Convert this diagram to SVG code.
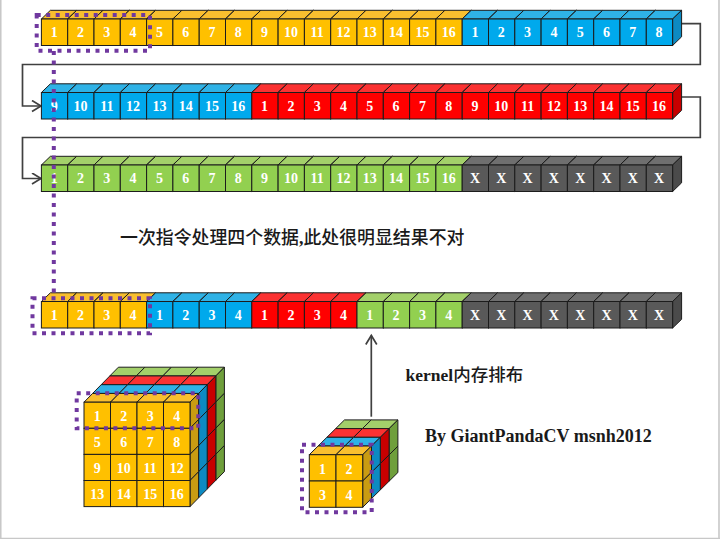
<svg xmlns="http://www.w3.org/2000/svg" width="720" height="539" viewBox="0 0 720 539">
<style>
.y{--f:#ffc000;--t:#f9bf2f;--s:#c99c12}
.b{--f:#00a9ec;--t:#2fb2e6;--s:#0d8ac2}
.r{--f:#ff0000;--t:#fb3232;--s:#c80000}
.g{--f:#92d050;--t:#a3d06a;--s:#6f9f3c}
.k{--f:#595959;--t:#6f6f6f;--s:#4b4b4b}
.f{fill:var(--f);stroke:#1c1c1c;stroke-width:1}
.u{fill:var(--t);stroke:#1c1c1c;stroke-width:1}
.s{fill:var(--s);stroke:#1c1c1c;stroke-width:1}
text{font-family:"Liberation Serif","Noto Sans CJK SC",serif;font-weight:700}
.n text,text.n{fill:#fff;font-size:14px;text-anchor:middle}
.w{fill:none;stroke:#404040;stroke-width:1.7}
.d{fill:none;stroke:#70389f;stroke-width:4;stroke-dasharray:4 5.5}
.l{fill:#1a1a1a}
.c{font-weight:500}
</style>
<defs>
<g id="cell"><polygon class="u" points="0,0 9,-8.7 35.3,-8.7 26.3,0"/><polygon class="s" points="26.3,0 35.3,-8.7 35.3,17.8 26.3,26.5"/><rect class="f" width="26.3" height="26.5"/></g>
<g id="lay4"><polygon class="u" points="0,0 8.6,-8.75 35.1,-8.75 26.5,0"/><polygon class="u" points="26.5,0 35.1,-8.75 61.6,-8.75 53,0"/><polygon class="u" points="53,0 61.6,-8.75 88.1,-8.75 79.5,0"/><polygon class="u" points="79.5,0 88.1,-8.75 114.6,-8.75 106,0"/><polygon class="s" points="106,0 114.6,-8.75 114.6,17.35 106,26.1"/><polygon class="s" points="106,26.1 114.6,17.35 114.6,43.45 106,52.2"/><polygon class="s" points="106,52.2 114.6,43.45 114.6,69.55 106,78.3"/><polygon class="s" points="106,78.3 114.6,69.55 114.6,95.65 106,104.4"/></g>
<g id="lay2"><polygon class="u" points="0,0 8.8,-8.7 35.5,-8.7 26.7,0"/><polygon class="u" points="26.7,0 35.5,-8.7 62.2,-8.7 53.4,0"/><polygon class="s" points="53.4,0 62.2,-8.7 62.2,17.6 53.4,26.3"/><polygon class="s" points="53.4,26.3 62.2,17.6 62.2,43.9 53.4,52.6"/></g>
<marker id="a" markerUnits="userSpaceOnUse" markerWidth="14" markerHeight="14" refX="10" refY="6" orient="auto"><path d="M1,0.5L10,6L1,11.5" fill="none" stroke="#404040" stroke-width="1.7"/></marker>
</defs>
<rect width="720" height="539" fill="#fff"/>
<path d="M0.75,0V539M719,0V539M0,538.5H720" fill="none" stroke="#c8c8c8" stroke-width="1.6"/>
<g id="connectors">
<path class="w" marker-end="url(#a)" d="M681,23.7H700.3V64.5H22.5V106H41"/>
<path class="w" marker-end="url(#a)" d="M681,97H700.3V137.5H22.5V178.5H41"/>
<path class="w" marker-end="url(#a)" d="M371.3,416.7V335.5"/>
</g>
<g id="row1" class="n">
<g id="r1c1" transform="translate(41.4,19)"><use href="#cell" class="y"/><text x="12.8" y="18">1</text></g>
<g id="r1c2" transform="translate(67.7,19)"><use href="#cell" class="y"/><text x="12.8" y="18">2</text></g>
<g id="r1c3" transform="translate(94,19)"><use href="#cell" class="y"/><text x="12.8" y="18">3</text></g>
<g id="r1c4" transform="translate(120.3,19)"><use href="#cell" class="y"/><text x="12.8" y="18">4</text></g>
<g id="r1c5" transform="translate(146.6,19)"><use href="#cell" class="y"/><text x="12.8" y="18">5</text></g>
<g id="r1c6" transform="translate(172.9,19)"><use href="#cell" class="y"/><text x="12.8" y="18">6</text></g>
<g id="r1c7" transform="translate(199.2,19)"><use href="#cell" class="y"/><text x="12.8" y="18">7</text></g>
<g id="r1c8" transform="translate(225.5,19)"><use href="#cell" class="y"/><text x="12.8" y="18">8</text></g>
<g id="r1c9" transform="translate(251.8,19)"><use href="#cell" class="y"/><text x="12.8" y="18">9</text></g>
<g id="r1c10" transform="translate(278.1,19)"><use href="#cell" class="y"/><text x="12.8" y="18">10</text></g>
<g id="r1c11" transform="translate(304.4,19)"><use href="#cell" class="y"/><text x="12.8" y="18">11</text></g>
<g id="r1c12" transform="translate(330.7,19)"><use href="#cell" class="y"/><text x="12.8" y="18">12</text></g>
<g id="r1c13" transform="translate(357,19)"><use href="#cell" class="y"/><text x="12.8" y="18">13</text></g>
<g id="r1c14" transform="translate(383.3,19)"><use href="#cell" class="y"/><text x="12.8" y="18">14</text></g>
<g id="r1c15" transform="translate(409.6,19)"><use href="#cell" class="y"/><text x="12.8" y="18">15</text></g>
<g id="r1c16" transform="translate(435.9,19)"><use href="#cell" class="y"/><text x="12.8" y="18">16</text></g>
<g id="r1c17" transform="translate(462.2,19)"><use href="#cell" class="b"/><text x="12.8" y="18">1</text></g>
<g id="r1c18" transform="translate(488.5,19)"><use href="#cell" class="b"/><text x="12.8" y="18">2</text></g>
<g id="r1c19" transform="translate(514.8,19)"><use href="#cell" class="b"/><text x="12.8" y="18">3</text></g>
<g id="r1c20" transform="translate(541.1,19)"><use href="#cell" class="b"/><text x="12.8" y="18">4</text></g>
<g id="r1c21" transform="translate(567.4,19)"><use href="#cell" class="b"/><text x="12.8" y="18">5</text></g>
<g id="r1c22" transform="translate(593.7,19)"><use href="#cell" class="b"/><text x="12.8" y="18">6</text></g>
<g id="r1c23" transform="translate(620,19)"><use href="#cell" class="b"/><text x="12.8" y="18">7</text></g>
<g id="r1c24" transform="translate(646.3,19)"><use href="#cell" class="b"/><text x="12.8" y="18">8</text></g>
</g>
<g id="row2" class="n">
<g id="r2c1" transform="translate(41.4,92.5)"><use href="#cell" class="b"/><text x="12.8" y="18">9</text></g>
<g id="r2c2" transform="translate(67.7,92.5)"><use href="#cell" class="b"/><text x="12.8" y="18">10</text></g>
<g id="r2c3" transform="translate(94,92.5)"><use href="#cell" class="b"/><text x="12.8" y="18">11</text></g>
<g id="r2c4" transform="translate(120.3,92.5)"><use href="#cell" class="b"/><text x="12.8" y="18">12</text></g>
<g id="r2c5" transform="translate(146.6,92.5)"><use href="#cell" class="b"/><text x="12.8" y="18">13</text></g>
<g id="r2c6" transform="translate(172.9,92.5)"><use href="#cell" class="b"/><text x="12.8" y="18">14</text></g>
<g id="r2c7" transform="translate(199.2,92.5)"><use href="#cell" class="b"/><text x="12.8" y="18">15</text></g>
<g id="r2c8" transform="translate(225.5,92.5)"><use href="#cell" class="b"/><text x="12.8" y="18">16</text></g>
<g id="r2c9" transform="translate(251.8,92.5)"><use href="#cell" class="r"/><text x="12.8" y="18">1</text></g>
<g id="r2c10" transform="translate(278.1,92.5)"><use href="#cell" class="r"/><text x="12.8" y="18">2</text></g>
<g id="r2c11" transform="translate(304.4,92.5)"><use href="#cell" class="r"/><text x="12.8" y="18">3</text></g>
<g id="r2c12" transform="translate(330.7,92.5)"><use href="#cell" class="r"/><text x="12.8" y="18">4</text></g>
<g id="r2c13" transform="translate(357,92.5)"><use href="#cell" class="r"/><text x="12.8" y="18">5</text></g>
<g id="r2c14" transform="translate(383.3,92.5)"><use href="#cell" class="r"/><text x="12.8" y="18">6</text></g>
<g id="r2c15" transform="translate(409.6,92.5)"><use href="#cell" class="r"/><text x="12.8" y="18">7</text></g>
<g id="r2c16" transform="translate(435.9,92.5)"><use href="#cell" class="r"/><text x="12.8" y="18">8</text></g>
<g id="r2c17" transform="translate(462.2,92.5)"><use href="#cell" class="r"/><text x="12.8" y="18">9</text></g>
<g id="r2c18" transform="translate(488.5,92.5)"><use href="#cell" class="r"/><text x="12.8" y="18">10</text></g>
<g id="r2c19" transform="translate(514.8,92.5)"><use href="#cell" class="r"/><text x="12.8" y="18">11</text></g>
<g id="r2c20" transform="translate(541.1,92.5)"><use href="#cell" class="r"/><text x="12.8" y="18">12</text></g>
<g id="r2c21" transform="translate(567.4,92.5)"><use href="#cell" class="r"/><text x="12.8" y="18">13</text></g>
<g id="r2c22" transform="translate(593.7,92.5)"><use href="#cell" class="r"/><text x="12.8" y="18">14</text></g>
<g id="r2c23" transform="translate(620,92.5)"><use href="#cell" class="r"/><text x="12.8" y="18">15</text></g>
<g id="r2c24" transform="translate(646.3,92.5)"><use href="#cell" class="r"/><text x="12.8" y="18">16</text></g>
</g>
<g id="row3" class="n">
<g id="r3c1" transform="translate(41.4,165)"><use href="#cell" class="g"/><text x="12.8" y="18">1</text></g>
<g id="r3c2" transform="translate(67.7,165)"><use href="#cell" class="g"/><text x="12.8" y="18">2</text></g>
<g id="r3c3" transform="translate(94,165)"><use href="#cell" class="g"/><text x="12.8" y="18">3</text></g>
<g id="r3c4" transform="translate(120.3,165)"><use href="#cell" class="g"/><text x="12.8" y="18">4</text></g>
<g id="r3c5" transform="translate(146.6,165)"><use href="#cell" class="g"/><text x="12.8" y="18">5</text></g>
<g id="r3c6" transform="translate(172.9,165)"><use href="#cell" class="g"/><text x="12.8" y="18">6</text></g>
<g id="r3c7" transform="translate(199.2,165)"><use href="#cell" class="g"/><text x="12.8" y="18">7</text></g>
<g id="r3c8" transform="translate(225.5,165)"><use href="#cell" class="g"/><text x="12.8" y="18">8</text></g>
<g id="r3c9" transform="translate(251.8,165)"><use href="#cell" class="g"/><text x="12.8" y="18">9</text></g>
<g id="r3c10" transform="translate(278.1,165)"><use href="#cell" class="g"/><text x="12.8" y="18">10</text></g>
<g id="r3c11" transform="translate(304.4,165)"><use href="#cell" class="g"/><text x="12.8" y="18">11</text></g>
<g id="r3c12" transform="translate(330.7,165)"><use href="#cell" class="g"/><text x="12.8" y="18">12</text></g>
<g id="r3c13" transform="translate(357,165)"><use href="#cell" class="g"/><text x="12.8" y="18">13</text></g>
<g id="r3c14" transform="translate(383.3,165)"><use href="#cell" class="g"/><text x="12.8" y="18">14</text></g>
<g id="r3c15" transform="translate(409.6,165)"><use href="#cell" class="g"/><text x="12.8" y="18">15</text></g>
<g id="r3c16" transform="translate(435.9,165)"><use href="#cell" class="g"/><text x="12.8" y="18">16</text></g>
<g id="r3c17" transform="translate(462.2,165)"><use href="#cell" class="k"/><text x="12.8" y="18">X</text></g>
<g id="r3c18" transform="translate(488.5,165)"><use href="#cell" class="k"/><text x="12.8" y="18">X</text></g>
<g id="r3c19" transform="translate(514.8,165)"><use href="#cell" class="k"/><text x="12.8" y="18">X</text></g>
<g id="r3c20" transform="translate(541.1,165)"><use href="#cell" class="k"/><text x="12.8" y="18">X</text></g>
<g id="r3c21" transform="translate(567.4,165)"><use href="#cell" class="k"/><text x="12.8" y="18">X</text></g>
<g id="r3c22" transform="translate(593.7,165)"><use href="#cell" class="k"/><text x="12.8" y="18">X</text></g>
<g id="r3c23" transform="translate(620,165)"><use href="#cell" class="k"/><text x="12.8" y="18">X</text></g>
<g id="r3c24" transform="translate(646.3,165)"><use href="#cell" class="k"/><text x="12.8" y="18">X</text></g>
</g>
<g id="row4" class="n">
<g id="r4c1" transform="translate(41.4,301.5)"><use href="#cell" class="y"/><text x="12.8" y="18">1</text></g>
<g id="r4c2" transform="translate(67.7,301.5)"><use href="#cell" class="y"/><text x="12.8" y="18">2</text></g>
<g id="r4c3" transform="translate(94,301.5)"><use href="#cell" class="y"/><text x="12.8" y="18">3</text></g>
<g id="r4c4" transform="translate(120.3,301.5)"><use href="#cell" class="y"/><text x="12.8" y="18">4</text></g>
<g id="r4c5" transform="translate(146.6,301.5)"><use href="#cell" class="b"/><text x="12.8" y="18">1</text></g>
<g id="r4c6" transform="translate(172.9,301.5)"><use href="#cell" class="b"/><text x="12.8" y="18">2</text></g>
<g id="r4c7" transform="translate(199.2,301.5)"><use href="#cell" class="b"/><text x="12.8" y="18">3</text></g>
<g id="r4c8" transform="translate(225.5,301.5)"><use href="#cell" class="b"/><text x="12.8" y="18">4</text></g>
<g id="r4c9" transform="translate(251.8,301.5)"><use href="#cell" class="r"/><text x="12.8" y="18">1</text></g>
<g id="r4c10" transform="translate(278.1,301.5)"><use href="#cell" class="r"/><text x="12.8" y="18">2</text></g>
<g id="r4c11" transform="translate(304.4,301.5)"><use href="#cell" class="r"/><text x="12.8" y="18">3</text></g>
<g id="r4c12" transform="translate(330.7,301.5)"><use href="#cell" class="r"/><text x="12.8" y="18">4</text></g>
<g id="r4c13" transform="translate(357,301.5)"><use href="#cell" class="g"/><text x="12.8" y="18">1</text></g>
<g id="r4c14" transform="translate(383.3,301.5)"><use href="#cell" class="g"/><text x="12.8" y="18">2</text></g>
<g id="r4c15" transform="translate(409.6,301.5)"><use href="#cell" class="g"/><text x="12.8" y="18">3</text></g>
<g id="r4c16" transform="translate(435.9,301.5)"><use href="#cell" class="g"/><text x="12.8" y="18">4</text></g>
<g id="r4c17" transform="translate(462.2,301.5)"><use href="#cell" class="k"/><text x="12.8" y="18">X</text></g>
<g id="r4c18" transform="translate(488.5,301.5)"><use href="#cell" class="k"/><text x="12.8" y="18">X</text></g>
<g id="r4c19" transform="translate(514.8,301.5)"><use href="#cell" class="k"/><text x="12.8" y="18">X</text></g>
<g id="r4c20" transform="translate(541.1,301.5)"><use href="#cell" class="k"/><text x="12.8" y="18">X</text></g>
<g id="r4c21" transform="translate(567.4,301.5)"><use href="#cell" class="k"/><text x="12.8" y="18">X</text></g>
<g id="r4c22" transform="translate(593.7,301.5)"><use href="#cell" class="k"/><text x="12.8" y="18">X</text></g>
<g id="r4c23" transform="translate(620,301.5)"><use href="#cell" class="k"/><text x="12.8" y="18">X</text></g>
<g id="r4c24" transform="translate(646.3,301.5)"><use href="#cell" class="k"/><text x="12.8" y="18">X</text></g>
</g>
<g id="cube16" class="n">
<use href="#lay4" class="g" x="109.8" y="375.95"/>
<use href="#lay4" class="r" x="101.2" y="384.7"/>
<use href="#lay4" class="b" x="92.6" y="393.45"/>
<use href="#lay4" class="y" x="84" y="402.2"/>
<g class="y">
<rect class="f" x="84" y="402.2" width="26.5" height="26.1"/><text x="97.2" y="421">1</text>
<rect class="f" x="110.5" y="402.2" width="26.5" height="26.1"/><text x="123.7" y="421">2</text>
<rect class="f" x="137" y="402.2" width="26.5" height="26.1"/><text x="150.2" y="421">3</text>
<rect class="f" x="163.5" y="402.2" width="26.5" height="26.1"/><text x="176.7" y="421">4</text>
<rect class="f" x="84" y="428.3" width="26.5" height="26.1"/><text x="97.2" y="447">5</text>
<rect class="f" x="110.5" y="428.3" width="26.5" height="26.1"/><text x="123.7" y="447">6</text>
<rect class="f" x="137" y="428.3" width="26.5" height="26.1"/><text x="150.2" y="447">7</text>
<rect class="f" x="163.5" y="428.3" width="26.5" height="26.1"/><text x="176.7" y="447">8</text>
<rect class="f" x="84" y="454.4" width="26.5" height="26.1"/><text x="97.2" y="473">9</text>
<rect class="f" x="110.5" y="454.4" width="26.5" height="26.1"/><text x="123.7" y="473">10</text>
<rect class="f" x="137" y="454.4" width="26.5" height="26.1"/><text x="150.2" y="473">11</text>
<rect class="f" x="163.5" y="454.4" width="26.5" height="26.1"/><text x="176.7" y="473">12</text>
<rect class="f" x="84" y="480.5" width="26.5" height="26.1"/><text x="97.2" y="498.5">13</text>
<rect class="f" x="110.5" y="480.5" width="26.5" height="26.1"/><text x="123.7" y="498.5">14</text>
<rect class="f" x="137" y="480.5" width="26.5" height="26.1"/><text x="150.2" y="498.5">15</text>
<rect class="f" x="163.5" y="480.5" width="26.5" height="26.1"/><text x="176.7" y="498.5">16</text>
</g>
</g>
<g id="cube4" class="n">
<use href="#lay2" class="g" x="335.7" y="428.6"/>
<use href="#lay2" class="r" x="326.9" y="437.3"/>
<use href="#lay2" class="b" x="318.1" y="446"/>
<use href="#lay2" class="y" x="309.3" y="454.7"/>
<g class="y">
<rect class="f" x="309.3" y="454.7" width="26.7" height="26.3"/><text x="322.4" y="473.5">1</text>
<rect class="f" x="336" y="454.7" width="26.7" height="26.3"/><text x="349" y="473.5">2</text>
<rect class="f" x="309.3" y="481" width="26.7" height="26.3"/><text x="322.4" y="499.5">3</text>
<rect class="f" x="336" y="481" width="26.7" height="26.3"/><text x="349" y="499.5">4</text>
</g>
</g>
<g id="highlights">
<rect class="d" x="36.7" y="15" width="113.3" height="35.7"/>
<path class="d" d="M53.8,51V298"/>
<rect class="d" x="32.5" y="298.3" width="117.5" height="35"/>
<rect class="d" x="76.7" y="393.3" width="121.6" height="35"/>
<rect class="d" x="302" y="444.7" width="69.7" height="67.6"/>
</g>
<g id="labels">
<text class="l" x="120" y="244" font-size="17.9"><tspan class="c">一次指令处理四个数据</tspan>,<tspan class="c">此处很明显结果不对</tspan></text>
<text class="l" x="405.5" y="381" font-size="17.5">kernel<tspan class="c">内存排布</tspan></text>
<text class="l" x="425" y="442" font-size="18">By GiantPandaCV msnh2012</text>
</g>
</svg>
